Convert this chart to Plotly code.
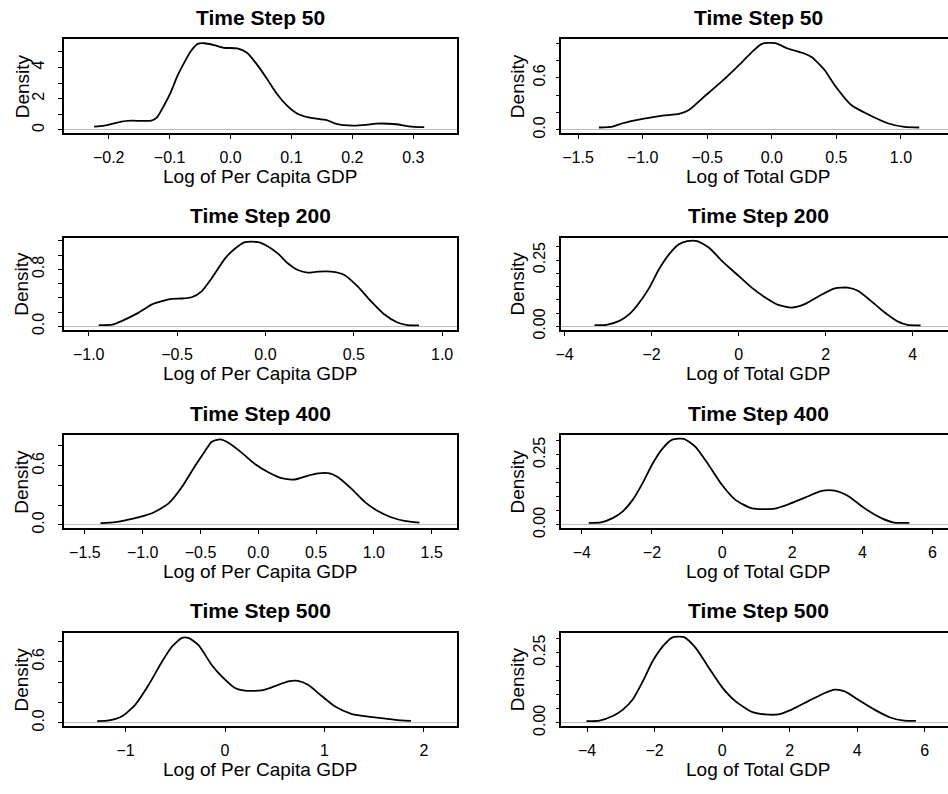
import plotly.graph_objects as go

# ---------------- data ----------------
pc50_x = [-0.224, -0.207, -0.179, -0.163, -0.130, -0.120, -0.109, -0.098, -0.087, -0.076, -0.065, -0.054,
          -0.043, -0.027, -0.011, 0.011, 0.027, 0.043, 0.060, 0.076, 0.092, 0.109, 0.130, 0.158, 0.174,
          0.201, 0.223, 0.239, 0.272, 0.293, 0.318]
pc50_y = [0.21, 0.27, 0.53, 0.59, 0.59, 0.84, 1.58, 2.42, 3.47, 4.31, 5.05, 5.51,
          5.55, 5.43, 5.26, 5.22, 4.94, 4.21, 3.26, 2.31, 1.58, 1.05, 0.78, 0.63, 0.38,
          0.27, 0.32, 0.40, 0.36, 0.23, 0.17]

tot50_x = [-1.338, -1.231, -1.154, -1.0, -0.846, -0.718, -0.641, -0.538, -0.385, -0.256, -0.154, -0.077,
           0.026, 0.128, 0.256, 0.308, 0.410, 0.487, 0.615, 0.744, 0.897, 1.026, 1.141]
tot50_y = [0.027, 0.038, 0.076, 0.126, 0.164, 0.183, 0.229, 0.363, 0.561, 0.744, 0.897, 0.992,
           1.0, 0.935, 0.878, 0.840, 0.687, 0.515, 0.286, 0.179, 0.076, 0.034, 0.027]

pc200_x = [-0.943, -0.868, -0.811, -0.717, -0.642, -0.586, -0.530, -0.473, -0.417, -0.361, -0.304, -0.229,
           -0.173, -0.116, -0.041, 0.015, 0.071, 0.128, 0.184, 0.240, 0.297, 0.372, 0.447, 0.522, 0.597,
           0.672, 0.747, 0.804, 0.869]
pc200_y = [0.018, 0.023, 0.078, 0.193, 0.308, 0.354, 0.386, 0.391, 0.409, 0.492, 0.676, 0.952,
           1.090, 1.182, 1.182, 1.122, 1.021, 0.883, 0.791, 0.754, 0.768, 0.768, 0.722, 0.561, 0.354,
           0.170, 0.055, 0.018, 0.014]

tot200_x = [-3.31, -3.04, -2.74, -2.51, -2.28, -2.05, -1.83, -1.60, -1.37, -1.18, -0.95, -0.68, -0.38,
            0.0, 0.30, 0.61, 0.91, 1.22, 1.52, 1.90, 2.21, 2.51, 2.74, 3.04, 3.35, 3.65, 3.88, 4.18]
tot200_y = [0.005, 0.006, 0.021, 0.046, 0.090, 0.146, 0.215, 0.271, 0.309, 0.321, 0.321, 0.296, 0.246,
            0.190, 0.146, 0.109, 0.081, 0.071, 0.084, 0.119, 0.143, 0.146, 0.134, 0.096, 0.053, 0.019,
            0.006, 0.004]

pc400_x = [-1.365, -1.236, -1.092, -0.920, -0.776, -0.661, -0.546, -0.460, -0.402, -0.330, -0.259, -0.144,
           -0.029, 0.086, 0.201, 0.316, 0.431, 0.517, 0.618, 0.690, 0.805, 0.920, 1.034, 1.149, 1.264, 1.394]
pc400_y = [0.017, 0.027, 0.060, 0.117, 0.217, 0.383, 0.600, 0.750, 0.843, 0.867, 0.833, 0.733,
           0.617, 0.533, 0.473, 0.460, 0.500, 0.523, 0.523, 0.483, 0.367, 0.233, 0.140, 0.077, 0.040, 0.023]

tot400_x = [-3.80, -3.45, -3.12, -2.84, -2.55, -2.27, -1.98, -1.70, -1.42, -1.09, -0.76, -0.38, 0.0,
            0.38, 0.85, 1.51, 1.89, 2.36, 2.84, 3.21, 3.59, 4.06, 4.54, 4.91, 5.34]
tot400_y = [0.007, 0.009, 0.024, 0.047, 0.089, 0.148, 0.219, 0.272, 0.304, 0.307, 0.278, 0.213, 0.142,
            0.089, 0.059, 0.058, 0.073, 0.097, 0.121, 0.122, 0.103, 0.059, 0.024, 0.008, 0.007]

pc500_x = [-1.286, -1.169, -1.036, -0.902, -0.768, -0.635, -0.535, -0.434, -0.368, -0.267, -0.134, -0.033,
           0.100, 0.200, 0.368, 0.468, 0.635, 0.735, 0.835, 0.969, 1.103, 1.270, 1.403, 1.637, 1.771, 1.871]
pc500_y = [0.016, 0.023, 0.065, 0.179, 0.373, 0.600, 0.747, 0.834, 0.834, 0.763, 0.568, 0.455,
           0.341, 0.315, 0.318, 0.347, 0.406, 0.412, 0.373, 0.266, 0.162, 0.088, 0.065, 0.039, 0.023, 0.019]

tot500_x = [-4.02, -3.63, -3.24, -2.94, -2.65, -2.35, -2.06, -1.76, -1.47, -1.13, -0.78, -0.39, 0.0,
            0.39, 0.88, 1.27, 1.67, 2.06, 2.55, 3.04, 3.33, 3.63, 4.02, 4.51, 5.0, 5.39, 5.74]
tot500_y = [0.006, 0.008, 0.024, 0.047, 0.083, 0.148, 0.219, 0.272, 0.304, 0.305, 0.266, 0.195, 0.126,
            0.077, 0.039, 0.030, 0.030, 0.047, 0.077, 0.106, 0.118, 0.112, 0.083, 0.047, 0.018, 0.008, 0.007]

# tick values / labels
pc50_xticks = [-0.2, -0.1, 0.0, 0.1, 0.2, 0.3]
pc50_xlabels = ["\u22120.2", "\u22120.1", "0.0", "0.1", "0.2", "0.3"]
pc50_yticks = [0, 1, 2, 3, 4, 5]
pc50_ylabels = ["0", "", "2", "", "4", ""]

tot50_xticks = [-1.5, -1.0, -0.5, 0.0, 0.5, 1.0]
tot50_xlabels = ["\u22121.5", "\u22121.0", "\u22120.5", "0.0", "0.5", "1.0"]
tot50_yticks = [0.0, 0.2, 0.4, 0.6, 0.8, 1.0]
tot50_ylabels = ["0.0", "", "", "0.6", "", ""]

pc200_xticks = [-1.0, -0.5, 0.0, 0.5, 1.0]
pc200_xlabels = ["\u22121.0", "\u22120.5", "0.0", "0.5", "1.0"]
pc200_yticks = [0.0, 0.2, 0.4, 0.6, 0.8, 1.0, 1.2]
pc200_ylabels = ["0.0", "", "", "", "0.8", "", ""]

tot_xticks = [-4, -2, 0, 2, 4, 6]
tot_xlabels = ["\u22124", "\u22122", "0", "2", "4", "6"]
tot_yticks = [0.0, 0.05, 0.10, 0.15, 0.20, 0.25, 0.30]
tot_ylabels = ["0.00", "", "", "", "", "0.25", ""]

pc400_xticks = [-1.5, -1.0, -0.5, 0.0, 0.5, 1.0, 1.5]
pc400_xlabels = ["\u22121.5", "\u22121.0", "\u22120.5", "0.0", "0.5", "1.0", "1.5"]
pc_yticks = [0.0, 0.2, 0.4, 0.6, 0.8]
pc_ylabels = ["0.0", "", "", "0.6", ""]

pc500_xticks = [-1, 0, 1, 2]
pc500_xlabels = ["\u22121", "0", "1", "2"]

titles = ["Time Step 50", "Time Step 200", "Time Step 400", "Time Step 500"]
xlab_left = "Log of Per Capita GDP"
xlab_right = "Log of Total GDP"
ylab = "Density"

# ---------------- layout geometry ----------------
W, H = 948, 794
FONT = "Liberation Sans, Arial, sans-serif"
col_px = [(58, 454), (559, 948)]
col_center = [256, 757]
row_top = [40, 241, 441, 641]
row_bot = [135, 334, 535, 735.5]

panels = [
    dict(x=pc50_x, y=pc50_y, row=0, col=0, xr=[-0.274, 0.372], yr=[-0.22, 5.79],
         xt=pc50_xticks, xl=pc50_xlabels, yt=pc50_yticks, yl=pc50_ylabels),
    dict(x=tot50_x, y=tot50_y, row=0, col=1, xr=[-1.628, 1.364], yr=[-0.04, 1.042],
         xt=tot50_xticks, xl=tot50_xlabels, yt=tot50_yticks, yl=tot50_ylabels),
    dict(x=pc200_x, y=pc200_y, row=1, col=0, xr=[-1.142, 1.085], yr=[-0.048, 1.241],
         xt=pc200_xticks, xl=pc200_xlabels, yt=pc200_yticks, yl=pc200_ylabels),
    dict(x=tot200_x, y=tot200_y, row=1, col=1, xr=[-4.07, 4.81], yr=[-0.0128, 0.333],
         xt=tot_xticks[:5], xl=tot_xlabels[:5], yt=tot_yticks, yl=tot_ylabels),
    dict(x=pc400_x, y=pc400_y, row=2, col=0, xr=[-1.684, 1.72], yr=[-0.035, 0.907],
         xt=pc400_xticks, xl=pc400_xlabels, yt=pc_yticks, yl=pc_ylabels),
    dict(x=tot400_x, y=tot400_y, row=2, col=1, xr=[-4.58, 6.44], yr=[-0.0123, 0.319],
         xt=tot_xticks, xl=tot_xlabels, yt=tot_yticks, yl=tot_ylabels),
    dict(x=pc500_x, y=pc500_y, row=3, col=0, xr=[-1.624, 2.335], yr=[-0.034, 0.883],
         xt=pc500_xticks, xl=pc500_xlabels, yt=pc_yticks, yl=pc_ylabels),
    dict(x=tot500_x, y=tot500_y, row=3, col=1, xr=[-4.76, 6.69], yr=[-0.0123, 0.32],
         xt=tot_xticks, xl=tot_xlabels, yt=tot_yticks, yl=tot_ylabels),
]

layout = dict(width=W, height=H, margin=dict(l=0, r=0, t=0, b=0),
              paper_bgcolor="white", plot_bgcolor="white", showlegend=False,
              font=dict(family=FONT, color="black"))
annotations = []
fig = go.Figure()

for i, p in enumerate(panels, start=1):
    xa = "x" if i == 1 else f"x{i}"
    ya = "y" if i == 1 else f"y{i}"
    xkey = "xaxis" if i == 1 else f"xaxis{i}"
    ykey = "yaxis" if i == 1 else f"yaxis{i}"
    c0, c1 = col_px[p["col"]]
    top, bot = row_top[p["row"]], row_bot[p["row"]]
    fig.add_trace(go.Scatter(x=p["x"], y=p["y"], mode="lines", xaxis=xa, yaxis=ya,
                             line=dict(color="black", width=1.8, shape="spline", smoothing=0.6),
                             hoverinfo="skip"))
    layout[xkey] = dict(domain=[c0 / W, min(c1 / W, 1.0)], anchor=ya, range=p["xr"],
                        showgrid=False, zeroline=False,
                        showline=True, linecolor="black", linewidth=1.6, mirror=True,
                        ticks="outside", ticklen=4, tickwidth=1.2, tickcolor="black",
                        tickmode="array", tickvals=p["xt"], ticktext=p["xl"],
                        tickfont=dict(size=16, family=FONT, color="black"),
                        ticklabelstandoff=5)
    layout[ykey] = dict(domain=[1 - bot / H, 1 - top / H], anchor=xa, range=p["yr"], showgrid=False,
                        zeroline=True, zerolinecolor="#bebebe", zerolinewidth=1.2,
                        showline=True, linecolor="black", linewidth=1.6,
                        mirror=(p["col"] == 0),
                        ticks="outside", ticklen=4, tickwidth=1.2, tickcolor="black",
                        tickmode="array", tickvals=p["yt"], ticktext=p["yl"], tickangle=-90,
                        tickfont=dict(size=16, family=FONT, color="black"),
                        ticklabelstandoff=7 if p["col"] == 0 else 4)

for r in range(4):
    for c in range(2):
        cx = col_center[c] / W
        annotations.append(dict(text=f"<b>{titles[r]}</b>", x=cx, y=1 - (row_top[r] - 22.5) / H,
                                xref="paper", yref="paper", xanchor="center", yanchor="middle",
                                showarrow=False, font=dict(size=21, family=FONT, color="black")))
        annotations.append(dict(text=xlab_left if c == 0 else xlab_right, x=cx,
                                y=1 - (row_bot[r] + 44) / H,
                                xref="paper", yref="paper", xanchor="center", yanchor="middle",
                                showarrow=False, font=dict(size=19, family=FONT, color="black")))
        annotations.append(dict(text=ylab, x=(16 if c == 0 else 515) / W,
                                y=1 - ((row_top[r] + row_bot[r]) / 2) / H,
                                xref="paper", yref="paper", xanchor="center", yanchor="middle",
                                textangle=-90, showarrow=False,
                                font=dict(size=19, family=FONT, color="black")))

layout["annotations"] = annotations
fig.update_layout(**layout)
fig.write_html("out.html")
